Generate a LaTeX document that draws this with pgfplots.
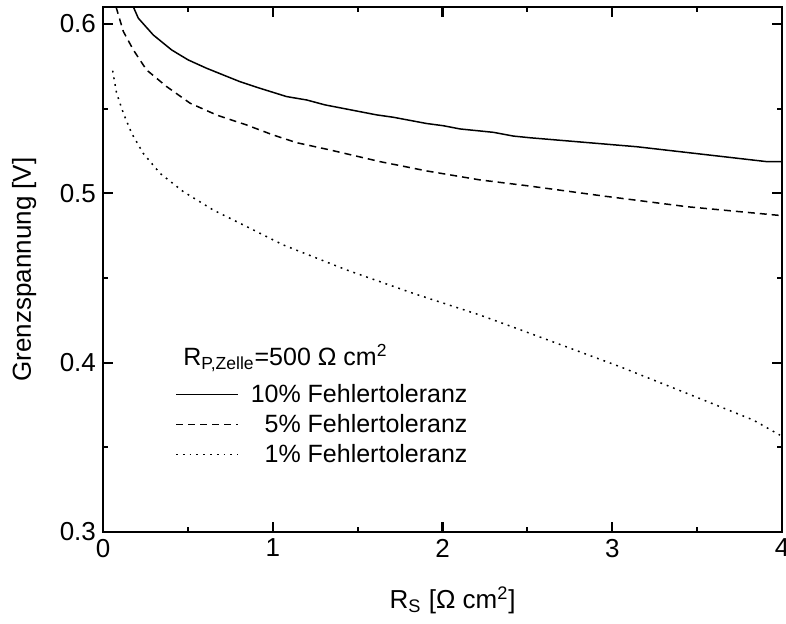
\documentclass[border=0pt]{standalone}
\usepackage{fontspec}
\setmainfont{Liberation Sans}
\usepackage{pgfplots}
\pgfplotsset{compat=1.18}

\begin{document}
\begin{tikzpicture}
\begin{axis}[
  scale only axis,
  width=339.5pt, height=262.5pt,
  xmin=0, xmax=4, ymin=0.3, ymax=0.61,
  xtick={0,1,2,3,4}, ytick={0.3,0.4,0.5,0.6},
  minor x tick num=1, minor y tick num=1,
  tick align=inside, xtick pos=both, ytick pos=both,
  xticklabel pos=lower, yticklabel pos=left,
  axis line style={line width=1.2pt},
  every tick/.style={black, line width=1.1pt},
  major tick length=5pt, minor tick length=2.5pt,
  tick label style={font=\fontsize{13}{15}\selectfont},
  /pgf/number format/assume math mode=true,
  yticklabel style={/pgf/number format/.cd, fixed, fixed zerofill, precision=1},
  xlabel={R\textsubscript{S} [Ω cm\textsuperscript{2}]},
  ylabel={Grenzspannung [V]},
  label style={font=\fontsize{13}{15}\selectfont},
  xlabel style={at={(axis description cs:0.515,-0.13)}, anchor=center},
  ylabel style={at={(axis description cs:-0.116,0.5)}, anchor=center},
  legend cell align=right,
  legend style={at={(axis description cs:0.097,0.298)}, anchor=north west,
    draw=none, fill=none, font=\fontsize{12.5}{14}\selectfont,
    row sep=0.5pt, column sep=4pt},
  legend image code/.code={\draw[#1, line width=0.75pt] (0pt,0pt) -- (31pt,0pt);},
  every axis plot/.append style={black, line width=0.75pt},
]
% 10 %
\addplot[solid] coordinates {
  (0.179,0.6100) (0.208,0.6034) (0.296,0.5935) (0.405,0.5846) (0.503,0.5787)
  (0.611,0.5738) (0.807,0.5659) (0.925,0.5620) (1.082,0.5571) (1.200,0.5551)
  (1.308,0.5522) (1.612,0.5463) (1.710,0.5449) (1.907,0.5412) (2.005,0.5399)
  (2.103,0.5380) (2.300,0.5360) (2.417,0.5338) (2.515,0.5328) (3.144,0.5275)
  (3.910,0.5187) (4.000,0.5187)
};
\addlegendentry{10\% Fehlertoleranz}
% 5 %
\addplot[dash pattern=on 3.5pt off 2.5pt] coordinates {
  (0.077,0.6100) (0.120,0.5955) (0.179,0.5846) (0.257,0.5728) (0.375,0.5630)
  (0.513,0.5532) (0.670,0.5462) (0.847,0.5403) (1.003,0.5344) (1.140,0.5299)
  (1.337,0.5256) (1.632,0.5187) (1.907,0.5132) (2.221,0.5079) (2.496,0.5045)
  (2.947,0.4984) (3.439,0.4921) (4.000,0.4868)
};
\addlegendentry{5\% Fehlertoleranz}
% 1 %
\addplot[dash pattern=on 0.9pt off 2.5pt] coordinates {
  (0.057,0.5724) (0.080,0.5591) (0.120,0.5473) (0.169,0.5354) (0.237,0.5236)
  (0.336,0.5118) (0.473,0.5010) (0.650,0.4901) (0.847,0.4803) (1.062,0.4695)
  (1.436,0.4547) (1.828,0.4409) (2.221,0.4281) (2.456,0.4195) (3.046,0.3976)
  (3.439,0.3819) (3.831,0.3661) (3.988,0.3572)
};
\addlegendentry{1\% Fehlertoleranz}

\node[anchor=west, inner sep=0pt, font=\fontsize{12.5}{14}\selectfont]
  at (axis cs:0.471,0.4027) {R\textsubscript{P,Zelle}=500 Ω cm\textsuperscript{2}};
\end{axis}
\pgfresetboundingbox
\path[use as bounding box]
  ([shift={(-51.5pt,-45.5pt)}]current axis.south west) rectangle
  ([shift={(341.5pt,266pt)}]current axis.south west);
\end{tikzpicture}
\end{document}
